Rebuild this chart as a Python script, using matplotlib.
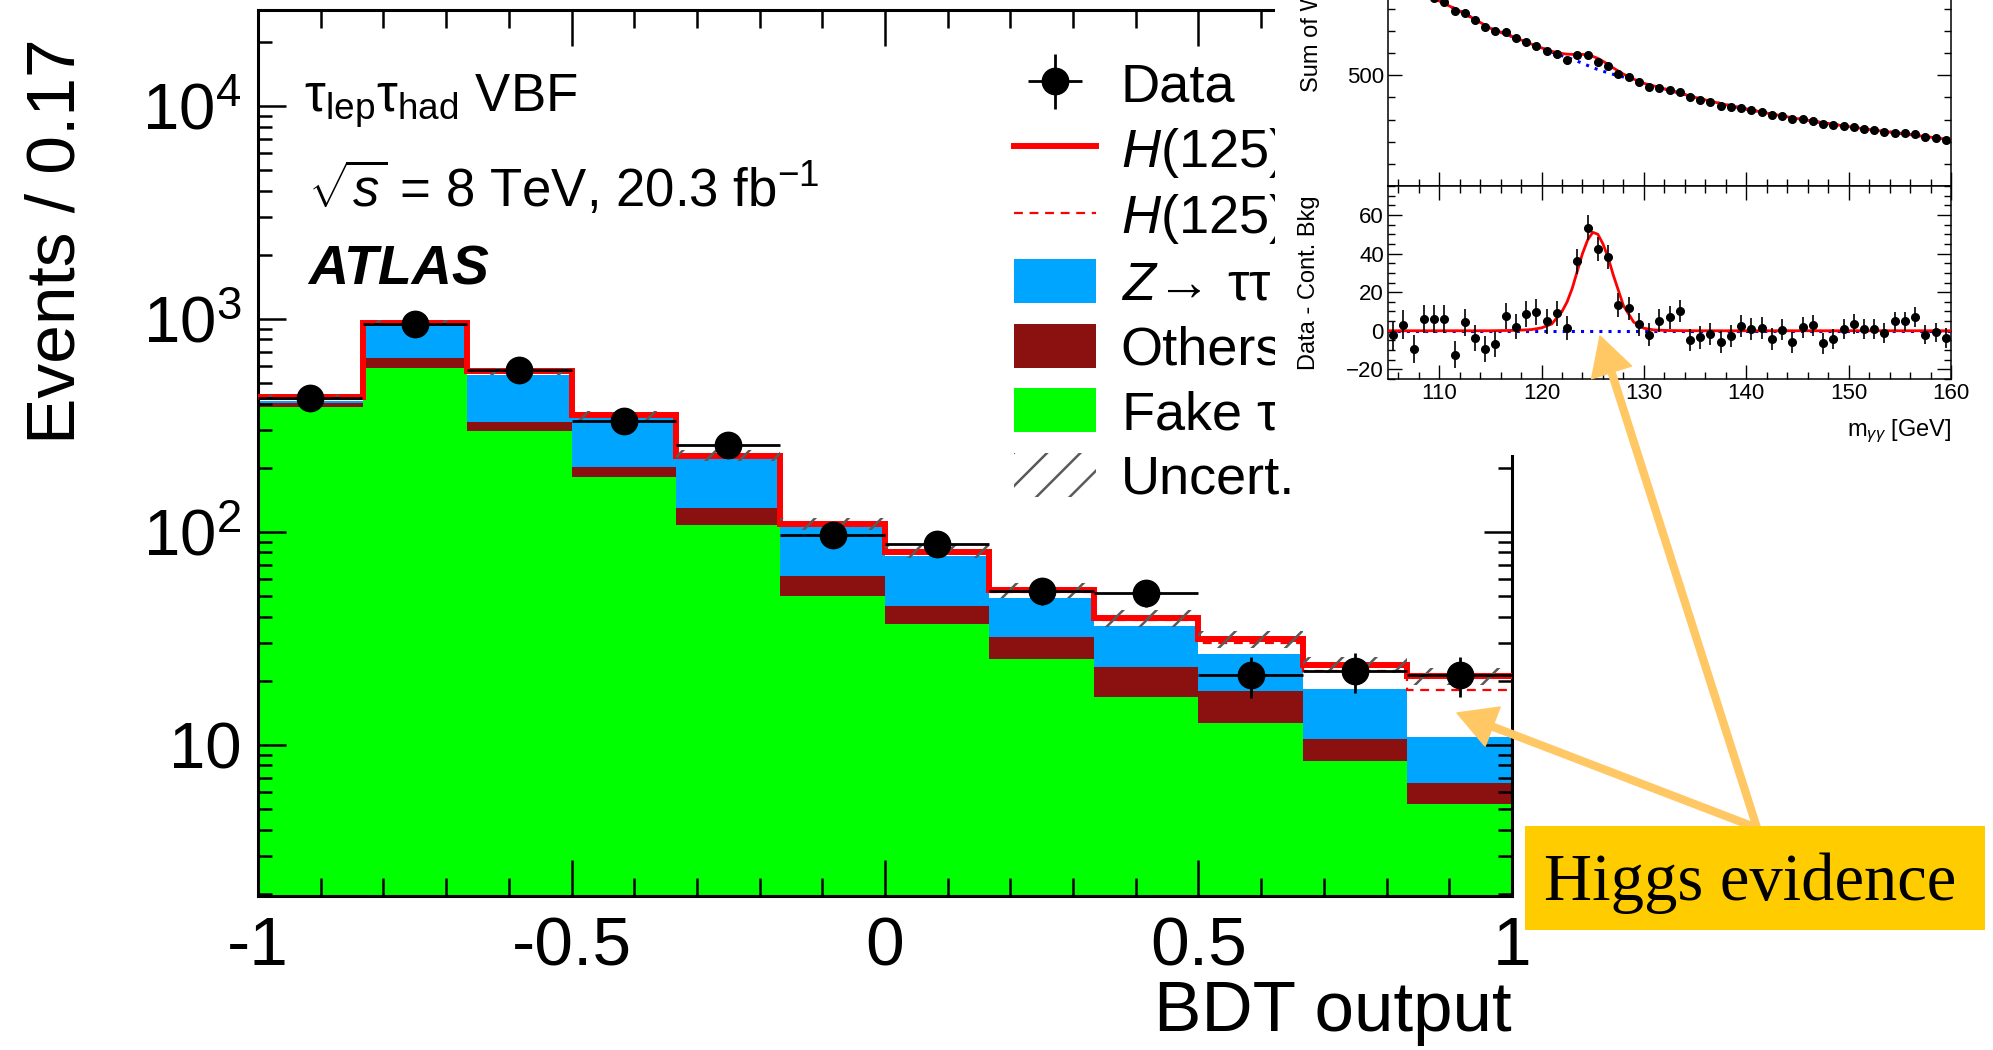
import numpy as np
import matplotlib
matplotlib.use("Agg")
import matplotlib.pyplot as plt
from matplotlib.patches import Rectangle, Patch, FancyArrowPatch
from matplotlib.lines import Line2D
from matplotlib.ticker import (FixedLocator, FixedFormatter, MultipleLocator,
                               LogLocator, NullFormatter)

plt.rcParams['font.family'] = ['Liberation Sans', 'DejaVu Sans']
plt.rcParams['mathtext.fontset'] = 'custom'
plt.rcParams['mathtext.rm'] = 'Liberation Sans'
plt.rcParams['mathtext.it'] = 'Liberation Sans:italic'
plt.rcParams['mathtext.bf'] = 'Liberation Sans:bold'
plt.rcParams['axes.unicode_minus'] = False
plt.rcParams['hatch.linewidth'] = 1.8
plt.rcParams['hatch.color'] = '#5a5a5a'

# Main plot: BDT output, tau_lep tau_had VBF category (12 bins from -1 to 1)
bdt_edges = np.linspace(-1, 1, 13)
data = [425, 945, 575, 333, 256, 97, 88, 52.5, 51.5, 21.2, 22.3, 21.3]
data_err = [20.6, 30.7, 24.0, 18.2, 16.0, 9.8, 9.4, 7.2, 7.2, 4.6, 4.7, 4.6]
fake_tau = [384, 587, 296, 180, 108, 49.8, 37.0, 25.2, 16.7, 12.7, 8.4, 5.3]
others = [19, 67, 32, 22, 21, 12.2, 8.0, 6.8, 6.4, 5.1, 2.2, 1.3]
ztautau = [7, 267, 219, 139, 90, 43, 32, 17, 12.9, 9.0, 7.7, 4.3]
higgs = [13, 28, 13.6, 8.6, 6.4, 2.9, 2.6, 2.9, 2.4, 3.2, 3.9, 7.2]   # mu = 1
unc_frac = [0.03, 0.03, 0.04, 0.05, 0.06, 0.06, 0.07, 0.08, 0.09, 0.09, 0.09, 0.09]
ytick_vals = [10, 100, 1000, 10000]
ytick_labels = ['10', r'$10^{2}$', r'$10^{3}$', r'$10^{4}$']
xtick_vals = [-1, -0.5, 0, 0.5, 1]
xtick_labels = ['-1', '-0.5', '0', '0.5', '1']

# Inset: diphoton mass, 1 GeV bins from 105 to 160
myy = np.arange(105.5, 160, 1.0)
sum_w = [940, 915, 885, 862, 848,
         831, 791, 781, 749, 719, 698, 693, 667, 652, 631,
         610, 596, 570, 590, 593, 561, 543, 504, 493, 469,
         448, 442, 433, 425, 400, 390, 378, 363, 358, 352,
         343, 333, 319, 316, 301, 301, 293, 278, 275, 272,
         267, 258, 251, 243, 240, 237, 234, 221, 218, 209]
diff = [-2.4, 3.1, -9.5, 6.2, 6.2,
        6.2, -12.4, 4.3, -3.8, -9.5, -6.7, 7.8, 2.2, 8.8, 9.7,
        4.8, 9.1, 1.4, 35.9, 53.4, 42.2, 38.3, 13.4, 11.7, 3.4,
        -2.1, 5.3, 6.9, 10.3, -4.7, -3.4, -1.7, -6.0, -2.9, 2.6,
        1.0, 1.4, -4.3, 0.5, -6.0, 1.7, 2.8, -6.4, -4.3, 0.9,
        3.6, 1.0, 1.0, -1.2, 4.8, 4.8, 7.1, -2.1, -0.9, -3.8]
w_err = [7.6, 7.5, 7.4, 7.3, 7.3,
         7.2, 7.1, 7.0, 6.9, 6.8, 6.8, 6.7, 6.6, 6.6, 6.5,
         6.4, 6.4, 6.3, 6.3, 6.4, 6.2, 6.2, 6.1, 6.0, 6.0,
         5.9, 5.9, 5.9, 5.8, 5.8, 5.8, 5.7, 5.7, 5.7, 5.6,
         5.6, 5.6, 5.5, 5.5, 5.5, 5.4, 5.4, 5.4, 5.3, 5.3,
         5.3, 5.2, 5.2, 5.2, 5.1, 5.1, 5.1, 5.0, 5.0, 5.0]
fit_m = [105, 107.5, 110, 112.5, 115, 117.5, 119, 120, 121, 122, 122.5, 123, 123.5,
         124, 124.5, 125, 125.5, 126, 126.5, 127, 128, 129, 130, 131, 132.5, 135,
         137.5, 140, 142.5, 145, 147.5, 150, 152.5, 155, 157.5, 160]
fit_bkg = [955, 893, 835, 778, 712, 668, 640, 622, 604, 588, 580, 572, 563,
           554, 544, 534, 526, 518, 511, 504, 492, 478, 462, 451, 432, 400,
           372, 347, 325, 304, 285, 268, 252, 238, 223, 209]
fit_sig = [0, 0, 0, 0, 0, 0.2, 0.6, 1.5, 3.5, 10, 15, 22, 31,
           40, 47, 51, 50, 45, 38, 29, 13, 4.5, 1.3, 0.4, 0.1, 0,
           0, 0, 0, 0, 0, 0, 0, 0, 0, 0]

W, H = 1993, 1050
fig = plt.figure(figsize=(W / 100, H / 100), dpi=100)

# ---------------- main plot ----------------
ax = fig.add_axes([258 / W, 1 - 896 / H, (1512 - 258) / W, (896 - 10) / H])

fake = np.array(fake_tau)
oth = fake + np.array(others)
bkg = oth + np.array(ztautau)
tot14 = bkg + 1.4 * np.array(higgs)
tot1 = bkg + np.array(higgs)
unc = np.array(unc_frac)

ax.stairs(fake, bdt_edges, baseline=1e-3, fill=True, color='#00ff00', zorder=1)
ax.stairs(oth, bdt_edges, baseline=fake, fill=True, color='#8b1010', zorder=1)
ax.stairs(bkg, bdt_edges, baseline=oth, fill=True, color='#00a5ff', zorder=1)
ax.stairs(tot14, bdt_edges, baseline=None, color='red', lw=4.3, zorder=3)
ax.stairs(tot1, bdt_edges, baseline=None, color='red', lw=1.6, ls=(0, (4, 3)), zorder=3.5)
ax.stairs(tot14 * (1 + unc), bdt_edges, baseline=tot14 * (1 - unc), fill=True,
          facecolor='none', edgecolor='#5a5a5a', hatch='/', lw=0, zorder=4)

centers = 0.5 * (bdt_edges[1:] + bdt_edges[:-1])
h_data = ax.errorbar(centers, data, xerr=(bdt_edges[1] - bdt_edges[0]) / 2, yerr=data_err,
                     fmt='o', color='black', ms=19, elinewidth=2, capsize=0, zorder=6)

ax.set_xlim(-1, 1)
ax.set_yscale('log')
ax.set_ylim(1.95, 28200)
ax.xaxis.set_major_locator(FixedLocator(xtick_vals))
ax.xaxis.set_major_formatter(FixedFormatter(xtick_labels))
ax.xaxis.set_minor_locator(MultipleLocator(0.1))
ax.yaxis.set_major_locator(FixedLocator(ytick_vals))
ax.yaxis.set_major_formatter(FixedFormatter(ytick_labels))
ax.yaxis.set_minor_locator(LogLocator(base=10, subs=np.arange(2, 10)))
ax.yaxis.set_minor_formatter(NullFormatter())
ax.tick_params(which='both', direction='in', top=True, right=True, width=1.8)
ax.tick_params(axis='x', which='major', length=26, labelsize=50, pad=14)
ax.tick_params(axis='x', which='minor', length=13)
ax.tick_params(axis='y', which='major', length=20, labelsize=47, pad=12)
ax.tick_params(axis='y', which='minor', length=10)
for s in ax.spines.values():
    s.set_linewidth(2.2)

ax.set_xlabel('BDT output', fontsize=51, loc='right')
ax.xaxis.set_label_coords(1.0, -0.095)
ax.set_ylabel('Events / 0.17', fontsize=50, loc='top')
ax.yaxis.set_label_coords(-0.135, 0.968)

fig.text(304 / W, 1 - 112 / H, r'$\mathrm{\tau}_{\rm lep}\mathrm{\tau}_{\rm had}$ VBF', fontsize=38, va='baseline')
fig.text(308 / W, 1 - 207 / H, r'$\sqrt{s}$ = 8 TeV, 20.3 fb$^{-1}$', fontsize=38, va='baseline')
fig.text(308 / W, 1 - 285 / H, 'ATLAS', fontsize=40, weight='bold', style='italic', va='baseline')

handles = [h_data,
           Line2D([], [], color='red', lw=4.3),
           Line2D([], [], color='red', lw=1.6, ls=(0, (4, 3))),
           Patch(facecolor='#00a5ff'),
           Patch(facecolor='#8b1010'),
           Patch(facecolor='#00ff00'),
           Patch(facecolor='none', edgecolor='#5a5a5a', hatch='/', lw=0)]
labels = ['Data', r'$H$(125) ($\mu$=1.4)', r'$H$(125) ($\mu$=1)',
          r'$Z\!\rightarrow\,\mathrm{\tau\tau}$', 'Others', r'Fake $\mathrm{\tau}$', 'Uncert.']
ax.legend(handles, labels, loc='upper left', bbox_to_anchor=(1014 / W, 1 - 61 / H),
          bbox_transform=fig.transFigure, frameon=False, fontsize=39, handlelength=1.52,
          handleheight=0.88, handletextpad=0.45, labelspacing=0.235, borderpad=0, borderaxespad=0)

# white background of the pasted inset
fig.add_artist(Rectangle((1275 / W, 1 - 455 / H), 1 - 1275 / W, 455 / H, transform=fig.transFigure,
                         facecolor='white', edgecolor='none', zorder=1))

# ---------------- inset: m_yy ----------------
ax1 = fig.add_axes([1388 / W, 1 - 186 / H, (1951 - 1388) / W, (186 + 235) / H], zorder=2)
ax2 = fig.add_axes([1388 / W, 1 - 379 / H, (1951 - 1388) / W, (379 - 186) / H], zorder=2)

ax1.plot(fit_m, fit_bkg, color='blue', lw=2.2, ls=(0, (1, 2)), zorder=2)
ax1.plot(fit_m, np.array(fit_bkg) + np.array(fit_sig), color='red', lw=2, zorder=3)
ax1.errorbar(myy, sum_w, yerr=w_err, fmt='o', color='black', ms=5.5, elinewidth=1.2, capsize=0, zorder=4)
ax1.set_xlim(105, 160)
ax1.set_ylim(0, 1900)
ax1.xaxis.set_major_locator(MultipleLocator(10))
ax1.xaxis.set_minor_locator(MultipleLocator(2))
ax1.yaxis.set_major_locator(FixedLocator([500, 1000, 1500]))
ax1.yaxis.set_minor_locator(MultipleLocator(100))
ax1.tick_params(labelbottom=False)
ax1.set_ylabel('Sum of Weights / GeV', fontsize=17)
ax1.yaxis.set_label_coords(-0.115, 0.5)

ax2.axhline(0, color='blue', lw=2.2, ls=(0, (1, 2)), zorder=2)
ax2.plot(fit_m, fit_sig, color='red', lw=2, zorder=3)
ax2.errorbar(myy, diff, yerr=w_err, fmt='o', color='black', ms=5.5, elinewidth=1.2, capsize=0, zorder=4)
ax2.set_xlim(105, 160)
ax2.set_ylim(-25, 75)
ax2.xaxis.set_major_locator(MultipleLocator(10))
ax2.xaxis.set_minor_locator(MultipleLocator(2))
ax2.yaxis.set_major_locator(FixedLocator([-20, 0, 20, 40, 60]))
ax2.yaxis.set_major_formatter(FixedFormatter(['\u221220', '0', '20', '40', '60']))
ax2.yaxis.set_minor_locator(MultipleLocator(5))
ax2.set_xlabel(r'm$_{\gamma\gamma}$ [GeV]', fontsize=17, loc='right')
ax2.xaxis.set_label_coords(1.0, -0.2)
ax2.set_ylabel('Data - Cont. Bkg', fontsize=17)
ax2.yaxis.set_label_coords(-0.12, 0.5)

for a in (ax1, ax2):
    a.tick_params(which='both', direction='in', top=True, right=True, width=1, labelsize=16, pad=3)
    a.tick_params(which='major', length=10)
    a.tick_params(which='minor', length=5)
    for s in a.spines.values():
        s.set_linewidth(1.1)

# ---------------- annotation ----------------
fig.add_artist(Rectangle((1525 / W, 1 - 930 / H), (1985 - 1525) / W, (930 - 826) / H,
                         transform=fig.transFigure, facecolor='#ffcc00', edgecolor='none', zorder=5))
fig.text(1750 / W, 1 - 900 / H, 'Higgs evidence', family='Liberation Serif', fontsize=48,
         ha='center', va='baseline', zorder=6)
for tip in [(1457, 713), (1600, 336)]:
    fig.add_artist(FancyArrowPatch((1757 / W, 1 - 828 / H), (tip[0] / W, 1 - tip[1] / H),
                                   transform=fig.transFigure,
                                   arrowstyle='simple,head_length=0.5,head_width=0.55,tail_width=0.09',
                                   mutation_scale=55, color='#ffc864', zorder=4,
                                   shrinkA=0, shrinkB=0))

fig.savefig('out.png', dpi=100)
